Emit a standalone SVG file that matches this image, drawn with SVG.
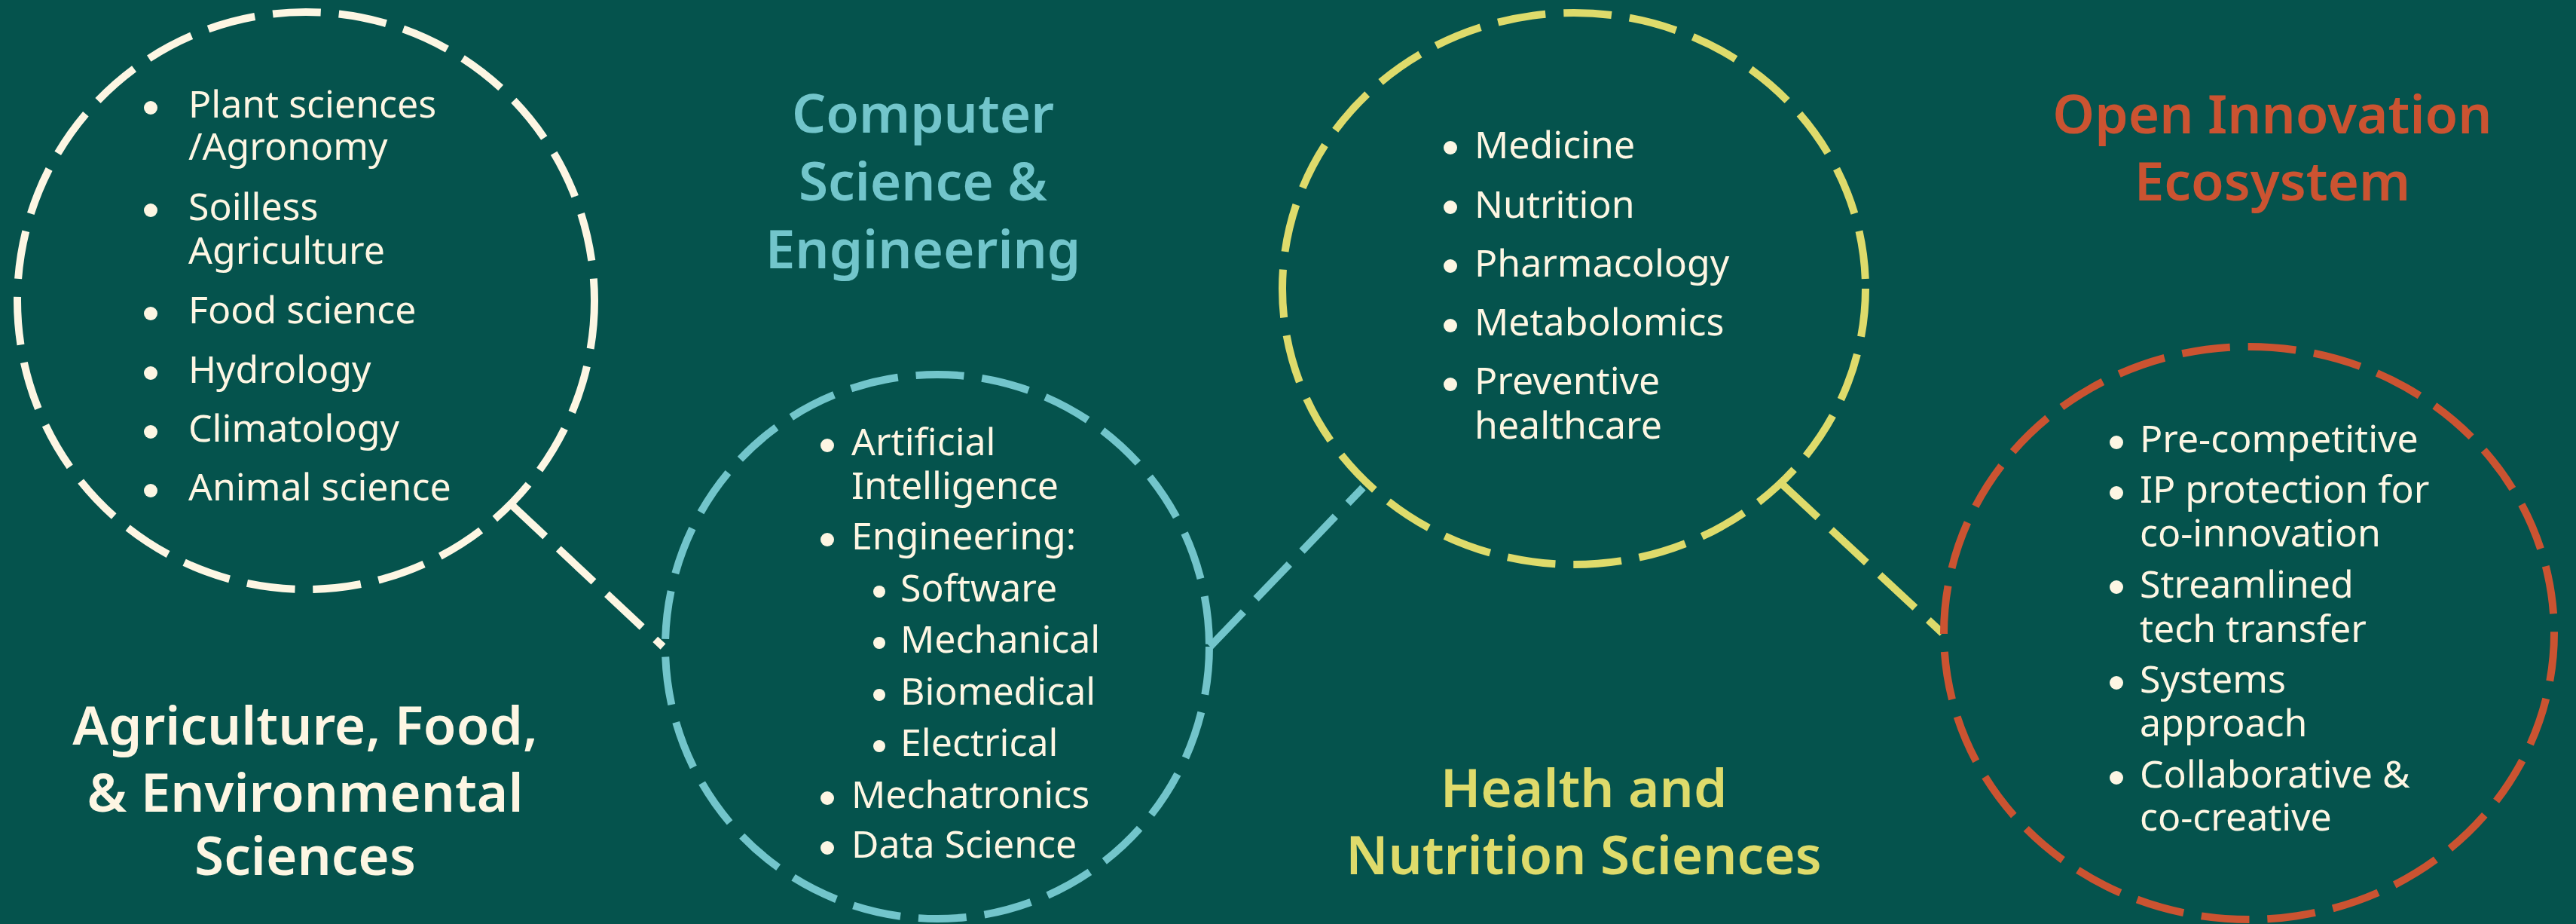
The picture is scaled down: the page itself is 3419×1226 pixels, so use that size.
<svg xmlns="http://www.w3.org/2000/svg" width="3419" height="1226" viewBox="0 0 3419 1226">
<style>
.ring{fill:none;stroke-width:10;stroke-dasharray:64 24}
.cream{stroke:#FDF6E3}
.teal{stroke:#72C5CB}
.yel{stroke:#DEDB6B}
.org{stroke:#CB5331}
.item{font-family:"Noto Sans","Open Sans",sans-serif;font-size:50px;fill:#FDF6E3}
.title{font-family:"Noto Sans","Open Sans",sans-serif;font-size:71px;font-weight:600;text-anchor:middle}
.dot{fill:#FDF6E3}
</style>
<rect x="0" y="0" width="3419" height="1226" fill="#05534D"/>
<g id="connectors">
<line class="ring cream" x1="677" y1="668" x2="880" y2="858"/>
<line class="ring teal" x1="1606" y1="858" x2="1809" y2="647"/>
<line class="ring yel" x1="2366" y1="643" x2="2578" y2="840"/>
</g>
<g id="agri">
<circle class="ring cream" cx="406" cy="399" r="383"/>
<circle class="dot" cx="200" cy="143" r="9"/>
<circle class="dot" cx="200" cy="279" r="9"/>
<circle class="dot" cx="200" cy="416" r="9"/>
<circle class="dot" cx="200" cy="495" r="9"/>
<circle class="dot" cx="200" cy="573" r="9"/>
<circle class="dot" cx="200" cy="651" r="9"/>
<text class="item" x="250" y="156">Plant sciences<tspan x="250" y="212">/Agronomy</tspan></text>
<text class="item" x="250" y="292">Soilless<tspan x="250" y="350">Agriculture</tspan></text>
<text class="item" x="250" y="429">Food science</text>
<text class="item" x="250" y="508">Hydrology</text>
<text class="item" x="250" y="586">Climatology</text>
<text class="item" x="250" y="664">Animal science</text>
<text class="title" fill="#FDF6E3" x="405" y="988">Agriculture, Food,<tspan x="405" y="1077">&amp; Environmental</tspan><tspan x="405" y="1161">Sciences</tspan></text>
</g>
<g id="cs">
<circle class="ring teal" cx="1244" cy="858" r="361"/>
<circle class="dot" cx="1098" cy="591" r="9"/>
<circle class="dot" cx="1098" cy="716" r="9"/>
<circle class="dot" cx="1167" cy="785" r="8"/>
<circle class="dot" cx="1167" cy="853" r="8"/>
<circle class="dot" cx="1167" cy="922" r="8"/>
<circle class="dot" cx="1167" cy="990" r="8"/>
<circle class="dot" cx="1098" cy="1059" r="9"/>
<circle class="dot" cx="1098" cy="1125" r="9"/>
<text class="item" x="1130" y="604">Artificial<tspan x="1130" y="662">Intelligence</tspan></text>
<text class="item" x="1130" y="729">Engineering:</text>
<text class="item" x="1195" y="798">Software</text>
<text class="item" x="1195" y="866">Mechanical</text>
<text class="item" x="1195" y="935">Biomedical</text>
<text class="item" x="1195" y="1003">Electrical</text>
<text class="item" x="1130" y="1072">Mechatronics</text>
<text class="item" x="1130" y="1138">Data Science</text>
<text class="title" fill="#72C5CB" x="1225" y="176">Computer<tspan x="1225" y="266">Science &amp;</tspan><tspan x="1225" y="356">Engineering</tspan></text>
</g>
<g id="health">
<ellipse class="ring yel" cx="2089" cy="383" rx="387" ry="366"/>
<circle class="dot" cx="1925" cy="196" r="9"/>
<circle class="dot" cx="1925" cy="275" r="9"/>
<circle class="dot" cx="1925" cy="353" r="9"/>
<circle class="dot" cx="1925" cy="432" r="9"/>
<circle class="dot" cx="1925" cy="510" r="9"/>
<text class="item" x="1957" y="210">Medicine</text>
<text class="item" x="1957" y="289">Nutrition</text>
<text class="item" x="1957" y="367">Pharmacology</text>
<text class="item" x="1957" y="445">Metabolomics</text>
<text class="item" x="1957" y="523">Preventive<tspan x="1957" y="582">healthcare</tspan></text>
<text class="title" fill="#DEDB6B" x="2102" y="1071">Health and<tspan x="2102" y="1160">Nutrition Sciences</tspan></text>
</g>
<g id="open">
<ellipse class="ring org" cx="2985" cy="840" rx="405" ry="380"/>
<circle class="dot" cx="2809" cy="587" r="9"/>
<circle class="dot" cx="2809" cy="654" r="9"/>
<circle class="dot" cx="2809" cy="779" r="9"/>
<circle class="dot" cx="2809" cy="906" r="9"/>
<circle class="dot" cx="2809" cy="1032" r="9"/>
<text class="item" x="2840" y="600">Pre-competitive</text>
<text class="item" x="2840" y="667">IP protection for<tspan x="2840" y="725">co-innovation</tspan></text>
<text class="item" x="2840" y="793">Streamlined<tspan x="2840" y="852">tech transfer</tspan></text>
<text class="item" x="2840" y="919">Systems<tspan x="2840" y="977">approach</tspan></text>
<text class="item" x="2840" y="1045">Collaborative &amp;<tspan x="2840" y="1102">co-creative</tspan></text>
<text class="title" fill="#CB5331" x="3016" y="177">Open Innovation<tspan x="3016" y="266">Ecosystem</tspan></text>
</g>
</svg>
